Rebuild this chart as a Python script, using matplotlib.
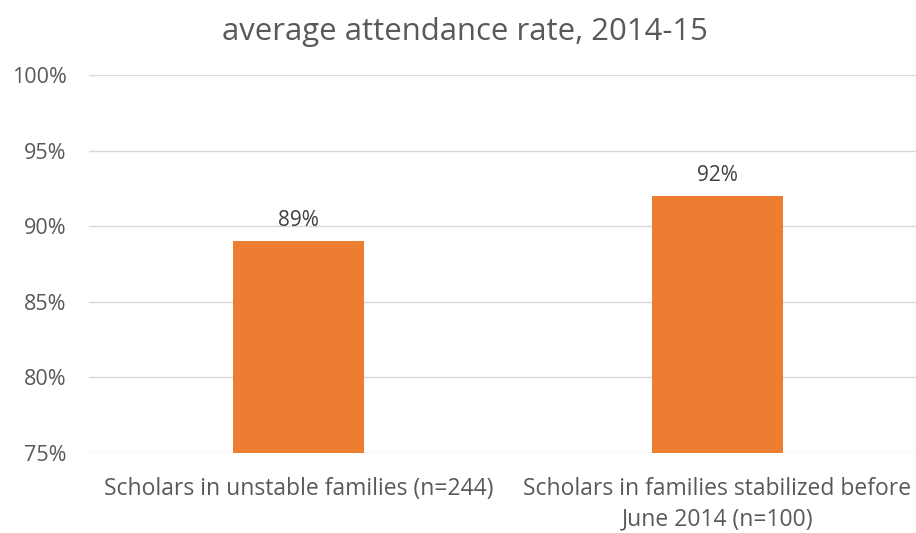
import matplotlib
import matplotlib.pyplot as plt
from matplotlib.ticker import FuncFormatter

categories = ["Scholars in unstable families (n=244)",
              "Scholars in families stabilized before\nJune 2014 (n=100)"]
values = [89, 92]
yticks = [75, 80, 85, 90, 95, 100]

plt.rcParams['font.family'] = ['Open Sans', 'DejaVu Sans']

fig = plt.figure(figsize=(9.16, 5.33), dpi=100)
ax = fig.add_axes([0.0972, 0.150, 0.9148, 0.709])

x = range(len(categories))
bars = ax.bar(x, values, width=0.3126, color='#ED7D31', zorder=3)

ax.set_xlim(-0.5, 1.5)
ax.set_ylim(75, 100)
ax.set_yticks(yticks)
ax.yaxis.set_major_formatter(FuncFormatter(lambda v, p: f"{v:.0f}%"))
ax.set_xticks(list(x))
ax.set_xticklabels(categories, fontsize=16.5, color='#595959', linespacing=1.4)
ax.tick_params(axis='y', labelsize=15.5, colors='#595959', length=0, pad=16)
ax.tick_params(axis='x', length=0, pad=17)

ax.grid(axis='y', color='#D9D9D9', lw=1, zorder=0)
for s in ax.spines.values():
    s.set_visible(False)

for b, v in zip(bars, values):
    ax.text(b.get_x() + b.get_width() / 2, v + 1.0, f"{v}%",
            ha='center', va='baseline', fontsize=15, color='#404040')

fig.text(0.508, 0.940, "average attendance rate, 2014-15", ha='center', va='center',
         fontsize=22.4, color='#595959')

plt.savefig("out.png", dpi=100)
